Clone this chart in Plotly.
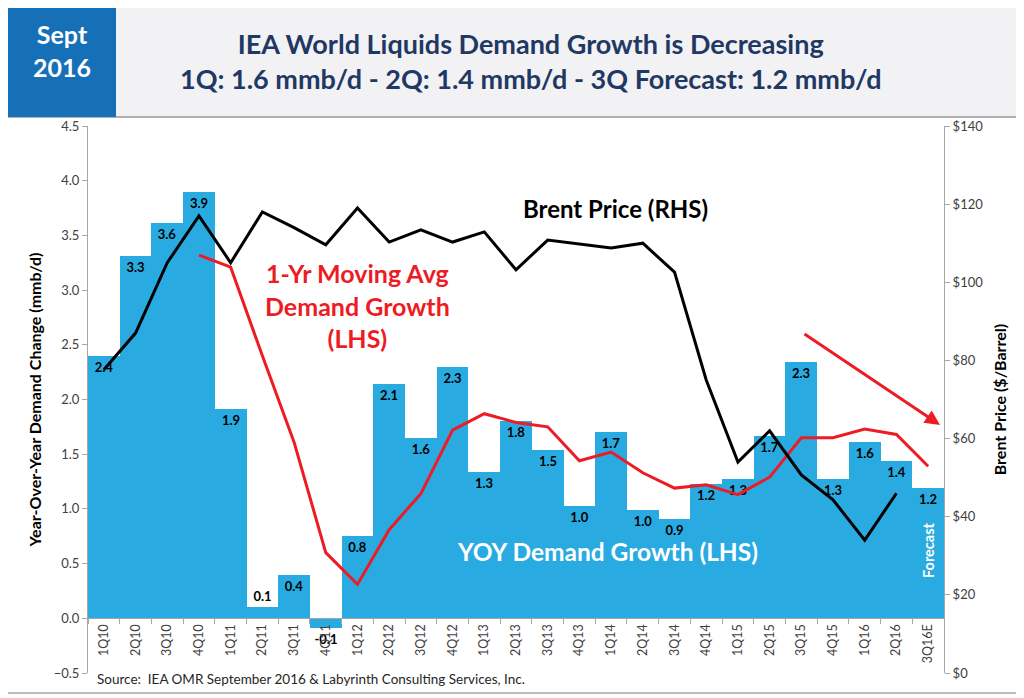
import plotly.graph_objects as go

quarters = ["1Q10","2Q10","3Q10","4Q10","1Q11","2Q11","3Q11","4Q11","1Q12","2Q12","3Q12","4Q12",
            "1Q13","2Q13","3Q13","4Q13","1Q14","2Q14","3Q14","4Q14","1Q15","2Q15","3Q15","4Q15",
            "1Q16","2Q16","3Q16E"]
yoy_growth = [2.40,3.31,3.61,3.90,1.91,0.10,0.40,-0.09,0.75,2.14,1.65,2.30,
              1.34,1.80,1.54,1.03,1.70,0.99,0.91,1.23,1.27,1.67,2.34,1.27,
              1.61,1.44,1.19]
yoy_labels = ["2.4","3.3","3.6","3.9","1.9","0.1","0.4","-0.1","0.8","2.1","1.6","2.3",
              "1.3","1.8","1.5","1.0","1.7","1.0","0.9","1.2","1.3","1.7","2.3","1.3",
              "1.6","1.4","1.2"]
moving_avg = [None,None,None,3.32,3.21,2.40,1.61,0.60,0.31,0.81,1.14,1.72,
              1.87,1.79,1.75,1.44,1.52,1.33,1.19,1.22,1.13,1.29,1.65,1.65,
              1.73,1.68,1.39]
brent = [77.6,87,105,117,105,118,114,109.6,119,110.3,113.4,110.3,
         112.9,103.2,110.8,109.8,108.8,110,102.6,75,54,62,50.7,44.3,
         34,46,None]

FONT = "Lato"
fig = go.Figure()

fig.add_trace(go.Bar(
    x=quarters, y=yoy_growth, text=yoy_labels, textposition="auto",
    insidetextanchor="end", marker=dict(color="#29ABE2", line=dict(width=0)),
    textfont=dict(family=FONT, size=13, color="black", weight="bold"),
    insidetextfont=dict(family=FONT, size=13, color="black", weight="bold"),
    outsidetextfont=dict(family=FONT, size=13, color="black", weight="bold"),
    cliponaxis=False, showlegend=False, yaxis="y"))

fig.add_trace(go.Scatter(
    x=quarters, y=moving_avg, mode="lines", line=dict(color="#ED1C24", width=3),
    showlegend=False, yaxis="y", connectgaps=False))

fig.add_trace(go.Scatter(
    x=quarters, y=brent, mode="lines", line=dict(color="black", width=3),
    showlegend=False, yaxis="y2", connectgaps=False))

# page body has an 8px margin: figure is sized/offset so the plot lands where the reference has it
fig.update_layout(
    width=1016, height=690,
    margin=dict(l=80, r=80, t=118, b=25),
    paper_bgcolor="white", plot_bgcolor="white",
    bargap=0,
    font=dict(family=FONT, color="#404040"),
    xaxis=dict(
        type="category", anchor="free", position=0.1,
        tickangle=-90, tickfont=dict(family=FONT, size=12.5, color="#404040"),
        ticks="outside", tickson="boundaries", ticklen=5, tickcolor="#A6A6A6",
        showline=True, linecolor="#A6A6A6", linewidth=1, showgrid=False,
        range=[-0.5, 26.5]),
    yaxis=dict(
        range=[-0.5, 4.5], dtick=0.5, tickformat=".1f", domain=[0, 1],
        showgrid=False, zeroline=False, showline=True, linecolor="#A6A6A6", linewidth=1,
        ticks="outside", ticklen=5, tickcolor="#A6A6A6",
        tickfont=dict(family=FONT, size=13, color="#404040"),
        title=dict(text="Year-Over-Year Demand Change (mmb/d)", standoff=8,
                   font=dict(family=FONT, size=16, color="black", weight="bold"))),
    yaxis2=dict(
        range=[0, 140], dtick=20, tickprefix="$", overlaying="y", side="right",
        showgrid=False, zeroline=False, showline=True, linecolor="#A6A6A6", linewidth=1,
        ticks="outside", ticklen=5, tickcolor="#A6A6A6",
        tickfont=dict(family=FONT, size=13, color="#404040"),
        title=dict(text="Brent Price ($/Barrel)", standoff=12,
                   font=dict(family=FONT, size=16, color="black", weight="bold"))),
)

def px(x):
    return (x - 88) / 856

def py(y):
    return (673 - y) / 547

shapes = [
    dict(type="rect", xref="paper", yref="paper", x0=px(7), x1=px(1017),
         y0=py(117), y1=py(5), fillcolor="#F2F2F4",
         line=dict(color="#A6A6A6", width=1), layer="below"),
    dict(type="rect", xref="paper", yref="paper", x0=px(7), x1=px(116),
         y0=py(117), y1=py(5), fillcolor="#1670B8", line=dict(width=0)),
    dict(type="rect", xref="paper", yref="paper", x0=px(7), x1=px(1017),
         y0=py(693), y1=py(117), fillcolor="rgba(0,0,0,0)",
         line=dict(color="#A6A6A6", width=1.5), layer="below"),
]
fig.update_layout(shapes=shapes)

def note(text, x, y, size, color, **kw):
    d = dict(text=text, xref="paper", yref="paper", x=px(x), y=py(y), showarrow=False,
             xanchor="center", yanchor="middle", align="center",
             font=dict(family=FONT, size=size, color=color, weight="bold"))
    d.update(kw)
    return d

annotations = [
    note("Sept<br>2016", 62, 50, 25, "white"),
    note("IEA World Liquids Demand Growth is Decreasing<br>1Q: 1.6 mmb/d - 2Q: 1.4 mmb/d - 3Q Forecast: 1.2 mmb/d",
         531, 61, 27, "#1F3864"),
    note("Brent Price (RHS)", 615, 208, 24, "black"),
    note("1-Yr Moving Avg<br>Demand Growth<br>(LHS)", 357, 305, 25, "#ED1C24"),
    note("YOY Demand Growth (LHS)", 607, 551, 24.5, "white"),
    note("Forecast", 928, 550, 14.5, "white", textangle=-90),
    dict(text="Source:  IEA OMR September 2016 &amp; Labyrinth Consulting Services, Inc.",
         xref="paper", yref="paper", x=px(95), y=py(679), xanchor="left", yanchor="middle",
         showarrow=False, font=dict(family=FONT, size=13.5, color="#262626")),
    dict(text="", xref="paper", yref="paper", x=px(940), y=py(425),
         axref="pixel", ayref="pixel", ax=-137, ay=-92, showarrow=True,
         arrowhead=2, arrowsize=1, arrowwidth=3, arrowcolor="#ED1C24"),
]
fig.update_layout(annotations=annotations)

fig.write_html("out.html")
